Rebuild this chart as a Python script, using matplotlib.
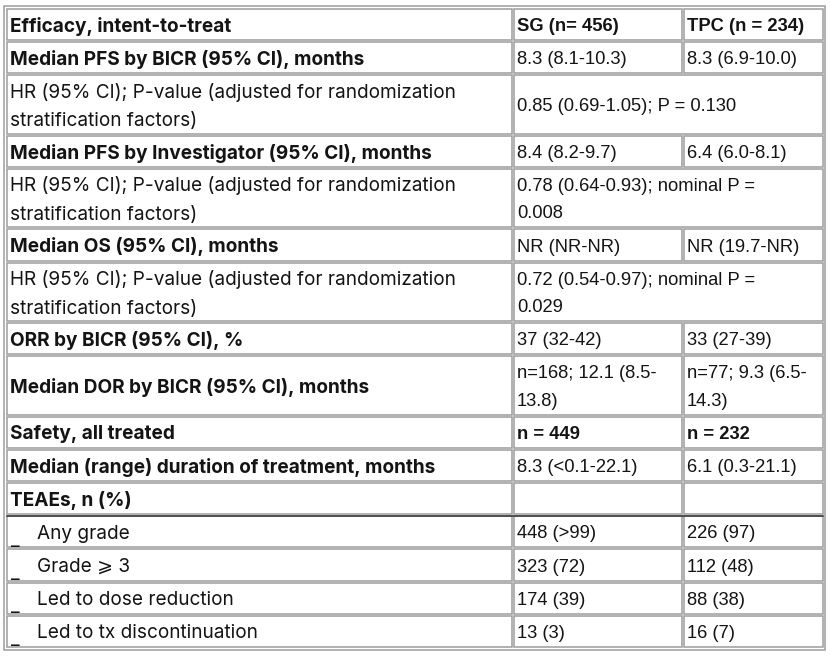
import matplotlib
matplotlib.use("Agg")
import matplotlib.pyplot as plt
from matplotlib.patches import Rectangle

# ---------------- data ----------------
row_labels = [
    "Efficacy, intent-to-treat",
    "Median PFS by BICR (95% CI), months",
    "HR (95% CI); P-value (adjusted for randomization\nstratification factors)",
    "Median PFS by Investigator (95% CI), months",
    "HR (95% CI); P-value (adjusted for randomization\nstratification factors)",
    "Median OS (95% CI), months",
    "HR (95% CI); P-value (adjusted for randomization\nstratification factors)",
    "ORR by BICR (95% CI), %",
    "Median DOR by BICR (95% CI), months",
    "Safety, all treated",
    "Median (range) duration of treatment, months",
    "TEAEs, n (%)",
    "Any grade",
    "Grade \u2a7e 3",
    "Led to dose reduction",
    "Led to tx discontinuation",
]
label_bold = [1, 1, 0, 1, 0, 1, 0, 1, 1, 1, 1, 1, 0, 0, 0, 0]
label_sub = [0, 0, 0, 0, 0, 0, 0, 0, 0, 0, 0, 0, 1, 1, 1, 1]
sg_values = [
    "SG (n= 456)", "8.3 (8.1-10.3)", "0.85 (0.69-1.05); P = 0.130",
    "8.4 (8.2-9.7)", "0.78 (0.64-0.93); nominal P =\n0.008", "NR (NR-NR)",
    "0.72 (0.54-0.97); nominal P =\n0.029", "37 (32-42)",
    "n=168; 12.1 (8.5-\n13.8)", "n = 449", "8.3 (<0.1-22.1)", "",
    "448 (>99)", "323 (72)", "174 (39)", "13 (3)",
]
tpc_values = [
    "TPC (n = 234)", "8.3 (6.9-10.0)", None,
    "6.4 (6.0-8.1)", None, "NR (19.7-NR)",
    None, "33 (27-39)",
    "n=77; 9.3 (6.5-\n14.3)", "n = 232", "6.1 (0.3-21.1)", "",
    "226 (97)", "112 (48)", "88 (38)", "16 (7)",
]
value_bold = [1, 0, 0, 0, 0, 0, 0, 0, 0, 1, 0, 0, 0, 0, 0, 0]
row_lines = [1, 1, 2, 1, 2, 1, 2, 1, 2, 1, 1, 1, 1, 1, 1, 1]

# ---------------- layout ----------------
W, H = 830, 658
fig = plt.figure(figsize=(W / 100, H / 100), dpi=100)
ax = fig.add_axes([0, 0, 1, 1])
ax.set_xlim(0, W)
ax.set_ylim(H, 0)
ax.axis("off")

col_x = [(7, 512), (514, 682), (684, 823)]
top, bottom, gap = 9, 647, 2
single_h = 31.2
extra = (bottom - top - gap * (len(row_lines) - 1) - single_h * len(row_lines)) / sum(l - 1 for l in row_lines)

edge = "#9c9c9c"
txt = "#141414"
lfont = ["Inter", "DejaVu Sans"]
rfont = ["Liberation Sans", "DejaVu Sans"]
LFS = 13.7
RFS = 13.2
dy = 2

# outer border
ax.add_patch(Rectangle((4, 6), 821, 644, fill=False, ec=edge, lw=1.1))

y = top
for i, nl in enumerate(row_lines):
    h = single_h + (nl - 1) * extra
    cy = y + h / 2 + dy
    # label cell
    x0, x1 = col_x[0]
    ax.add_patch(Rectangle((x0, y), x1 - x0, h, fill=False, ec=edge, lw=1.1))
    if label_sub[i]:
        ax.text(x0 + 4, cy + 6, "_", ha="left", va="center", fontsize=LFS,
                family=lfont, color=txt)
        ax.text(x0 + 30, cy, row_labels[i], ha="left", va="center", fontsize=LFS,
                family=lfont, color=txt)
    else:
        ax.text(x0 + 3, cy, row_labels[i], ha="left", va="center", fontsize=LFS,
                family=lfont, color=txt, fontweight="bold" if label_bold[i] else "normal",
                linespacing=1.75)
    # value cells
    if tpc_values[i] is None:
        x0, x1 = col_x[1][0], col_x[2][1]
        ax.add_patch(Rectangle((x0, y), x1 - x0, h, fill=False, ec=edge, lw=1.1))
        ax.text(x0 + 3, cy, sg_values[i], ha="left", va="center", fontsize=RFS,
                family=rfont, color=txt, linespacing=1.8)
    else:
        for (x0, x1), val in zip(col_x[1:], [sg_values[i], tpc_values[i]]):
            ax.add_patch(Rectangle((x0, y), x1 - x0, h, fill=False, ec=edge, lw=1.1))
            ax.text(x0 + 3, cy, val, ha="left", va="center", fontsize=RFS,
                    family=rfont, color=txt, linespacing=1.8,
                    fontweight="bold" if value_bold[i] else "normal")
    if i == 12:
        ax.plot([col_x[0][0], col_x[2][1]], [y, y], color="#333333", lw=1.1)
    y += h + gap

fig.savefig("out.png", dpi=100, facecolor="white")
